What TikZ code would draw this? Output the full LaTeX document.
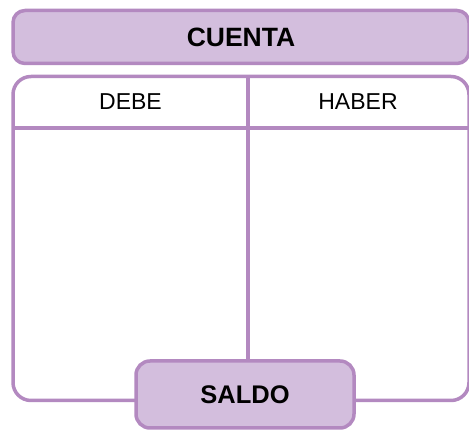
\documentclass[tikz,border=0pt]{standalone}
\usepackage{fontspec}
\setmainfont{Liberation Sans}
\usepackage{xcolor,tikz}

\definecolor{linepurple}{RGB}{179,137,192}
\definecolor{fillpurple}{RGB}{211,190,221}

\begin{document}
\begin{tikzpicture}[x=1pt, y=-1pt, line width=3.5pt]
			\useasboundingbox (0, 0) rectangle (469, 430);

			\draw (241, 37) 	node[draw=linepurple, fill=fillpurple, rounded corners=12pt, inner sep=0pt, minimum width=456pt, minimum height=53pt, font=\fontsize{26.5}{30}\selectfont\bfseries] 	(cuenta) 	{CUENTA};
			\draw (241, 238.5) 	node[draw=linepurple, rounded corners=18pt, inner sep=0pt, minimum width=456pt, minimum height=324pt] 	(table) 	{};
			\draw (130.5, 102) 	node[font=\fontsize{23}{28}\selectfont] 	(debe) 		{DEBE};
			\draw (358, 102) 	node[font=\fontsize{23}{28}\selectfont] 	(haber) 	{HABER};
			\draw (245, 394.5) 	node[draw=linepurple, fill=fillpurple, rounded corners=14pt, inner sep=0pt, minimum width=218pt, minimum height=67pt, font=\fontsize{25.5}{30}\selectfont\bfseries] 	(saldo) 	{SALDO};
			\coordinate (div) at (248, 75);
			\coordinate (rule) at (13, 128);

			\draw[linepurple] (rule) -- (rule -| table.east);
			\draw[linepurple] (div) -- (div |- saldo.north);
		\end{tikzpicture}
\end{document}
